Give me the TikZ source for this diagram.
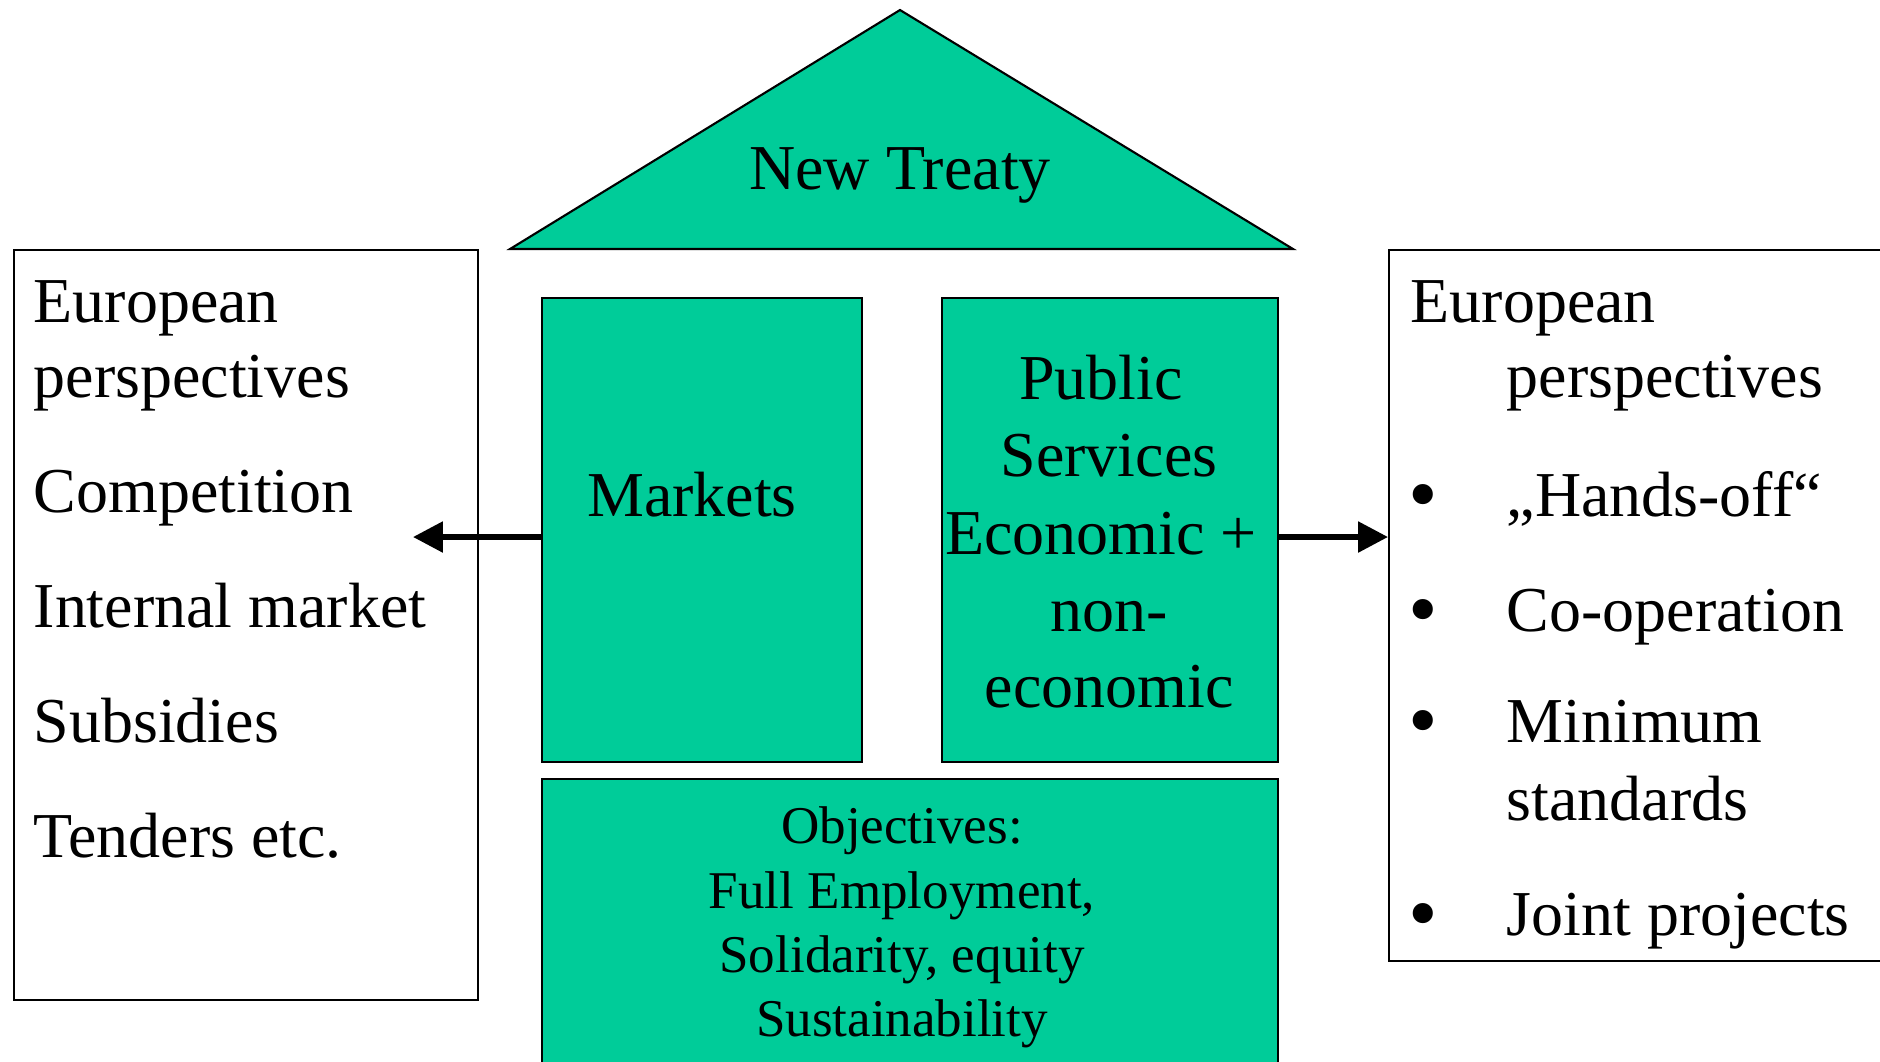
\documentclass[tikz,border=0pt]{standalone}
\usepackage{fontspec}
\setmainfont{Liberation Serif}
\usetikzlibrary{arrows.meta}
\definecolor{treatygreen}{RGB}{0,204,153}
\begin{document}
\begin{tikzpicture}[x=0.2845pt,y=-0.2845pt,
  greenbox/.style={draw=black,line width=0.6pt,fill=treatygreen},
  sidebox/.style={draw=black,line width=0.6pt,fill=white},
  bigtxt/.style={inner sep=0pt,font=\fontsize{18.2pt}{21pt}\selectfont},
  bullettxt/.style={inner sep=0pt,anchor=base west,font=\fontsize{24pt}{26pt}\selectfont},
  smalltxt/.style={inner sep=0pt,anchor=base,font=\fontsize{15.1pt}{18pt}\selectfont},
  arr/.style={line width=1.6pt,-{Triangle[length=8.5pt,width=8.5pt]}}]
\useasboundingbox (0,0) rectangle (1880,1061);
\clip (0,0) rectangle (1880,1061);
% shapes
\draw[greenbox] (900,10) -- (1293,249) -- (510,249) -- cycle;
\node[sidebox,anchor=north west,minimum width=464*0.2845pt,minimum height=750*0.2845pt,inner sep=0pt] (leftbox) at (13,249) {};
\node[sidebox,anchor=north west,minimum width=520*0.2845pt,minimum height=711*0.2845pt,inner sep=0pt] (rightbox) at (1388,249) {};
\node[greenbox,anchor=north west,minimum width=320*0.2845pt,minimum height=464*0.2845pt,inner sep=0pt] (markets) at (541,297) {};
\node[greenbox,anchor=north west,minimum width=336*0.2845pt,minimum height=464*0.2845pt,inner sep=0pt] (public) at (941,297) {};
\node[greenbox,anchor=north west,minimum width=736*0.2845pt,minimum height=300*0.2845pt,inner sep=0pt] (objectives) at (541,778) {};
% arrows
\coordinate (ltip) at (413,537);
\draw[arr] (markets.west |- ltip) -- (ltip);
\draw[arr] (public.east |- ltip) -- (rightbox.west |- ltip);
% roof text
\node[bigtxt,anchor=base] (treaty) at (900,189) {New Treaty};
% left box text
\node[bigtxt,anchor=base west] (l1) at (33,322) {European};
\node[bigtxt,anchor=base west] (l2) at (33,397) {perspectives};
\node[bigtxt,anchor=base west] (l3) at (33,512) {Competition};
\node[bigtxt,anchor=base west] (l4) at (33,627) {Internal market};
\node[bigtxt,anchor=base west] (l5) at (33,742) {Subsidies};
\node[bigtxt,anchor=base west] (l6) at (33,857) {Tenders etc.};
% markets
\node[bigtxt,anchor=base] (mtxt) at (692,516) {Markets};
% public services
\node[bigtxt,anchor=base] (p1) at (1101,399) {Public};
\node[bigtxt,anchor=base] (p2) at (1109,476) {Services};
\node[bigtxt,anchor=base] (p3) at (1101,554) {Economic +};
\node[bigtxt,anchor=base] (p4) at (1109,631) {non-};
\node[bigtxt,anchor=base] (p5) at (1109,707) {economic};
% objectives
\node[smalltxt] (o1) at (902,843) {Objectives:};
\node[smalltxt] (o2) at (902,908) {Full Employment,};
\node[smalltxt] (o3) at (902,972) {Solidarity, equity};
\node[smalltxt] (o4) at (902,1036) {Sustainability};
% right box text
\node[bigtxt,anchor=base west] (r1) at (1410,322) {European};
\node[bigtxt,anchor=base west] (r2) at (1506,397) {perspectives};
\node[bullettxt] (b1) at (1408,522) {•};
\node[bigtxt,anchor=base west] (r3) at (1506,516) {„Hands-off“};
\node[bullettxt] (b2) at (1408,637) {•};
\node[bigtxt,anchor=base west] (r4) at (1506,631) {Co-operation};
\node[bullettxt] (b3) at (1408,748) {•};
\node[bigtxt,anchor=base west] (r5) at (1506,742) {Minimum};
\node[bigtxt,anchor=base west] (r6) at (1506,820) {standards};
\node[bullettxt] (b4) at (1408,941) {•};
\node[bigtxt,anchor=base west] (r7) at (1506,935) {Joint projects};
\end{tikzpicture}
\end{document}
